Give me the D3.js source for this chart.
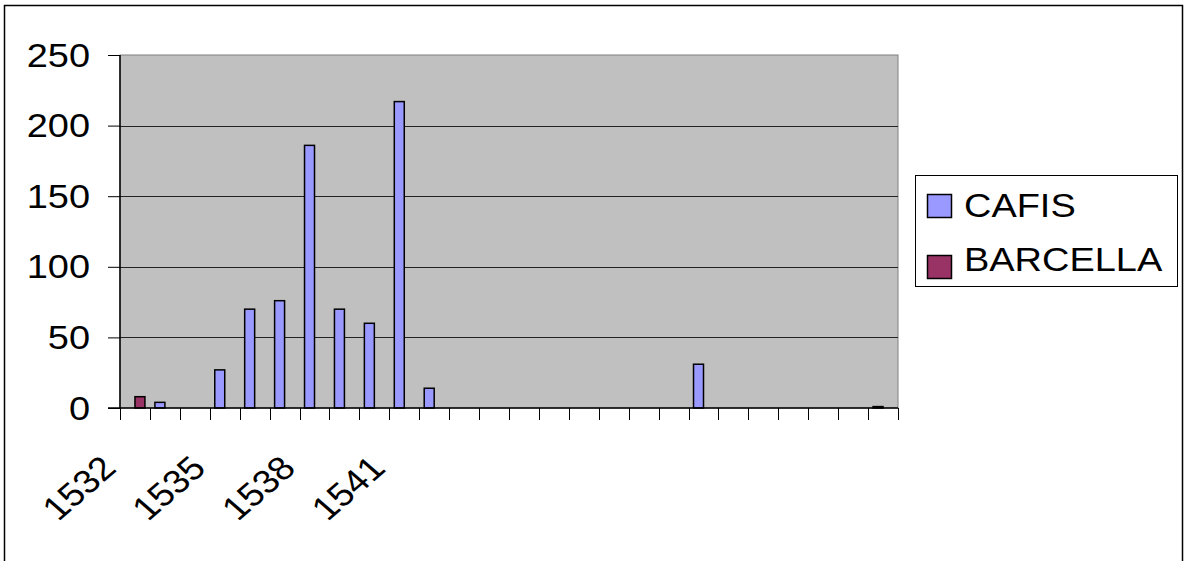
<!DOCTYPE html>
<html>
<head>
<meta charset="utf-8">
<script src="https://cdn.jsdelivr.net/npm/d3@7"></script>
<style>
  html, body { margin: 0; padding: 0; background: #fff; }
  text { font-family: "Liberation Sans", Arial, sans-serif; }
</style>
</head>
<body>
<svg id="chart" width="1185" height="561"></svg>
<script>
// ---- data ----
const categories = ["1532","1533","1534","1535","1536","1537","1538","1539","1540","1541","1542","1543",
                    "","","","","","","","","","","","","",""];
const seriesNames = ["CAFIS", "BARCELLA"];
const cafis    = [0,4,0,27,70,76,186,70,60,217,14,0,0,0,0,0,0,0,0,31,0,0,0,0,0,1];
const barcella = [8,0,0,0,0,0,0,0,0,0,0,0,0,0,0,0,0,0,0,0,0,0,0,0,0,0];
const yTicks = [0,50,100,150,200,250];
const colors = ["#9999FF", "#993366"];

const svg = d3.select("#chart");
const SX = 1.15; // horizontal text stretch
const pLeft = 120, pRight = 898, pTop = 55, pBottom = 408;

// outer border
svg.append("rect").attr("x", 4.5).attr("y", 5.5).attr("width", 1178).attr("height", 570)
  .attr("fill", "#fff").attr("stroke", "#000").attr("stroke-width", 1.5);

const idx = d3.range(categories.length);
const x = d3.scaleBand().domain(idx).range([pLeft, pRight]).paddingInner(0).paddingOuter(0);
const xInner = d3.scaleBand().domain(seriesNames)
  .range([x.bandwidth() / 6, x.bandwidth() * 5 / 6]);
const y = d3.scaleLinear().domain([0, 250]).range([pBottom, pTop]);

// plot background
svg.append("rect").attr("x", pLeft).attr("y", pTop).attr("width", pRight - pLeft).attr("height", pBottom - pTop)
  .attr("fill", "#C0C0C0").attr("stroke", "#808080").attr("stroke-width", 1);

// gridlines
svg.append("g").selectAll("line").data(yTicks.filter(d => d > 0 && d < 250)).join("line")
  .attr("x1", pLeft).attr("x2", pRight)
  .attr("y1", d => Math.round(y(d)) + 0.5).attr("y2", d => Math.round(y(d)) + 0.5)
  .attr("stroke", "#222").attr("stroke-width", 1);

// bars
const data = [];
idx.forEach(i => {
  [cafis, barcella].forEach((arr, s) => {
    if (arr[i] > 0) data.push({ i, s, v: arr[i] });
  });
});
svg.append("g").selectAll("rect").data(data).join("rect")
  .attr("x", d => x(d.i) + xInner(seriesNames[d.s]))
  .attr("width", xInner.bandwidth())
  .attr("y", d => y(d.v))
  .attr("height", d => pBottom - y(d.v))
  .attr("fill", d => colors[d.s])
  .attr("stroke", "#000").attr("stroke-width", 1.5);

// y axis
const yAxis = d3.axisLeft(y).tickValues(yTicks).tickSize(12).tickFormat("");
const gy = svg.append("g").attr("transform", `translate(${pLeft},0)`).call(yAxis);
gy.select(".domain").attr("stroke", "#000").attr("stroke-width", 1.5).attr("d", `M0,${pTop}V${pBottom}`);
gy.selectAll(".tick line").attr("stroke", "#000").attr("stroke-width", 1);
svg.append("g").selectAll("text").data(yTicks).join("text")
  .attr("transform", d => `translate(90,${y(d)}) scale(${SX},1)`)
  .attr("dy", "0.35em")
  .attr("text-anchor", "end")
  .attr("font-size", 33)
  .attr("fill", "#000")
  .text(d => d);

// x axis
const xTickPos = d3.range(categories.length + 1).map(k => pLeft + k * x.bandwidth());
svg.append("line").attr("x1", pLeft - 12).attr("x2", pRight).attr("y1", pBottom).attr("y2", pBottom)
  .attr("stroke", "#000").attr("stroke-width", 1.5);
svg.append("g").selectAll("line").data(xTickPos).join("line")
  .attr("x1", d => Math.round(d) + 0.5).attr("x2", d => Math.round(d) + 0.5)
  .attr("y1", pBottom).attr("y2", pBottom + 12)
  .attr("stroke", "#000").attr("stroke-width", 1);

svg.append("g").selectAll("text")
  .data(idx.filter(i => i % 3 === 0 && categories[i] !== ""))
  .join("text")
  .attr("transform", i => `translate(${x(i) + x.bandwidth() / 2 - 17},470) scale(${SX},1) rotate(-45)`)
  .attr("text-anchor", "end")
  .attr("font-size", 33)
  .attr("fill", "#000")
  .text(i => categories[i]);

// legend
const lg = svg.append("g");
lg.append("rect").attr("x", 915.5).attr("y", 175.5).attr("width", 262).attr("height", 111)
  .attr("fill", "#fff").attr("stroke", "#000").attr("stroke-width", 1);
seriesNames.forEach((name, s) => {
  const yy = 194 + s * 61;
  lg.append("rect").attr("x", 927.5).attr("y", yy + 0.5).attr("width", 24).attr("height", 23)
    .attr("fill", colors[s]).attr("stroke", "#000").attr("stroke-width", 1.5);
  lg.append("text")
    .attr("transform", `translate(964,${217 + s * 54}) scale(${SX},1)`)
    .attr("font-size", 33).attr("fill", "#000")
    .text(name);
});
</script>
</body>
</html>
